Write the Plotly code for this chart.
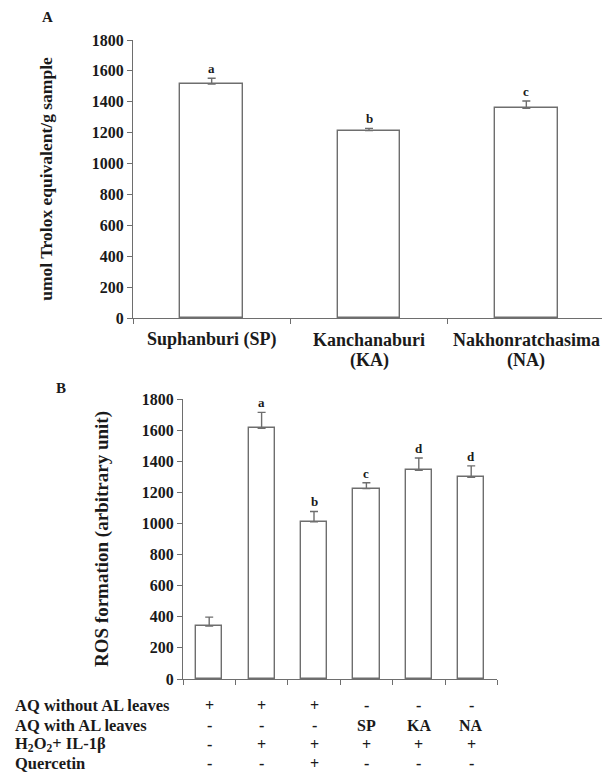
import plotly.graph_objects as go

# ---- Panel A data ----
regions = ["Suphanburi (SP)", "Kanchanaburi (KA)", "Nakhonratchasima (NA)"]
region_lines = [["Suphanburi (SP)"], ["Kanchanaburi", "(KA)"], ["Nakhonratchasima", "(NA)"]]
tac = [1515, 1213, 1358]
tac_err = [37, 15, 47]
letters_a = ["a", "b", "c"]
yticks_a = [0, 200, 400, 600, 800, 1000, 1200, 1400, 1600, 1800]

# ---- Panel B data ----
groups = ["G1", "G2", "G3", "G4", "G5", "G6"]
ros = [340, 1611, 1011, 1224, 1342, 1297]
ros_err = [58, 103, 66, 38, 79, 73]
letters_b = ["", "a", "b", "c", "d", "d"]
yticks_b = [0, 200, 400, 600, 800, 1000, 1200, 1400, 1600, 1800]

row_labels = ["AQ without AL leaves", "AQ with AL leaves",
              "H<sub>2</sub>O<sub>2</sub>+ IL-1β", "Quercetin"]
aq_without = ["+", "+", "+", "-", "-", "-"]
aq_with = ["-", "-", "-", "SP", "KA", "NA"]
h2o2 = ["-", "+", "+", "+", "+", "+"]
quercetin = ["-", "-", "+", "-", "-", "-"]
table_rows = [aq_without, aq_with, h2o2, quercetin]

OFF = 8  # default page body margin
W, H = 610 - OFF, 774 - OFF
FONT = "Liberation Serif"
TXT = "#1a1a1a"
LINE = "#6e6e6e"


def px(pix):
    return (pix - OFF) / W


def py(pix):
    return 1 - (pix - OFF) / H


fig = go.Figure()

fig.add_trace(go.Bar(
    x=regions, y=tac, width=0.4,
    marker=dict(color="white", line=dict(color=LINE, width=1.4)),
    error_y=dict(type="data", array=tac_err, arrayminus=[0] * len(tac),
                 symmetric=False, color=LINE, thickness=1.4, width=4),
    xaxis="x", yaxis="y", showlegend=False,
))

fig.add_trace(go.Bar(
    x=groups, y=ros, width=0.5,
    marker=dict(color="white", line=dict(color=LINE, width=1.4)),
    error_y=dict(type="data", array=ros_err, arrayminus=[0] * len(ros),
                 symmetric=False, color=LINE, thickness=1.4, width=4),
    xaxis="x2", yaxis="y2", showlegend=False,
))

tickfont = dict(family=FONT, size=16, color=TXT, weight="bold")

fig.update_layout(
    width=W, height=H,
    margin=dict(l=0, r=0, t=0, b=0, autoexpand=False),
    paper_bgcolor="white", plot_bgcolor="white",
    bargap=0,
    xaxis=dict(domain=[px(133), px(605)], anchor="y", automargin=False,
               type="category", categoryorder="array", categoryarray=regions,
               showticklabels=False,
               tickson="boundaries", ticks="outside", ticklen=5,
               tickcolor=LINE, showline=True, linecolor=LINE, linewidth=1,
               showgrid=False),
    yaxis=dict(domain=[py(318), py(40)], anchor="x", range=[0, 1800], automargin=False,
               tickvals=yticks_a, ticks="outside", ticklen=5, tickcolor=LINE,
               showline=True, linecolor=LINE, linewidth=1, showgrid=False,
               zeroline=False, tickfont=tickfont,
               title=dict(text="umol Trolox equivalent/g sample",
                          font=dict(family=FONT, size=17.5, color=TXT, weight="bold"),
                          standoff=34)),
    xaxis2=dict(domain=[px(183), px(497.4)], anchor="y2", automargin=False,
                type="category", categoryorder="array", categoryarray=groups,
                showticklabels=False,
                tickson="boundaries", ticks="outside", ticklen=5,
                tickcolor=LINE, showline=True, linecolor=LINE, linewidth=1,
                showgrid=False),
    yaxis2=dict(domain=[py(679), py(399)], anchor="x2", range=[0, 1800], automargin=False,
                tickvals=yticks_b, ticks="outside", ticklen=5, tickcolor=LINE,
                showline=True, linecolor=LINE, linewidth=1, showgrid=False,
                zeroline=False, tickfont=tickfont,
                title=dict(text="ROS formation (arbitrary unit)",
                           font=dict(family=FONT, size=19, color=TXT, weight="bold"),
                           standoff=28)),
)

annotations = []
# panel labels
annotations.append(dict(text="<b>A</b>", xref="paper", yref="paper", x=px(40), y=py(17),
                        showarrow=False, font=dict(family=FONT, size=15, color=TXT),
                        xanchor="left", yanchor="middle"))
annotations.append(dict(text="<b>B</b>", xref="paper", yref="paper", x=px(54), y=py(388),
                        showarrow=False, font=dict(family=FONT, size=15, color=TXT),
                        xanchor="left", yanchor="middle"))

# category labels of panel A
for cat, lines in zip(regions, region_lines):
    for i, ln in enumerate(lines):
        annotations.append(dict(text=f"<b>{ln}</b>", x=cat, xref="x", yref="paper",
                                y=py(340 + 20 * i), xanchor="center", yanchor="middle",
                                showarrow=False,
                                font=dict(family=FONT, size=18, color=TXT)))

# significance letters
for cat, v, e, t in zip(regions, tac, tac_err, letters_a):
    annotations.append(dict(text=f"<b>{t}</b>", x=cat, y=v + e, xref="x", yref="y",
                            showarrow=False, yanchor="bottom", yshift=0,
                            font=dict(family=FONT, size=13, color=TXT)))
for cat, v, e, t in zip(groups, ros, ros_err, letters_b):
    if t:
        annotations.append(dict(text=f"<b>{t}</b>", x=cat, y=v + e, xref="x2", yref="y2",
                                showarrow=False, yanchor="bottom", yshift=0,
                                font=dict(family=FONT, size=13, color=TXT)))

# treatment table
row_y = [705, 725, 744, 763]
for lab, vals, ry in zip(row_labels, table_rows, row_y):
    annotations.append(dict(text=f"<b>{lab}</b>", xref="paper", yref="paper",
                            x=px(13), y=py(ry), xanchor="left", yanchor="middle",
                            showarrow=False, font=dict(family=FONT, size=16.5, color=TXT)))
    for g, s in zip(groups, vals):
        annotations.append(dict(text=f"<b>{s}</b>", xref="x2", yref="paper",
                                x=g, y=py(ry), xanchor="center", yanchor="middle",
                                showarrow=False, font=dict(family=FONT, size=16, color=TXT)))

fig.update_layout(annotations=annotations)

fig.write_html("out.html")
